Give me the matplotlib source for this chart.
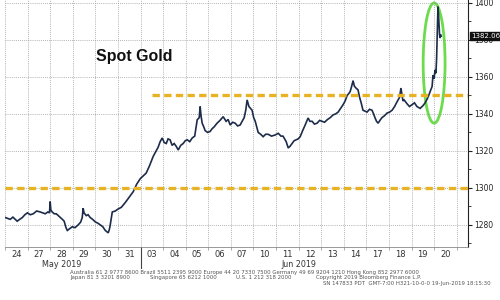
import matplotlib
matplotlib.use("Agg")
import matplotlib.pyplot as plt
from matplotlib.patches import Ellipse
from matplotlib.lines import Line2D
from matplotlib.ticker import MultipleLocator, FixedLocator

# ---- data ----
day_labels = ["24", "27", "28", "29", "30", "31", "03", "04", "05", "06",
              "07", "10", "11", "12", "13", "14", "17", "18", "19", "20"]
month_labels = ["May 2019", "Jun 2019"]
month_label_days = [2.0, 12.5]

# time in trading days (0 = May 24) and spot gold price
t = [-0.49, -0.38, -0.27, -0.15, 0.04, 0.15, 0.27, 0.38, 0.49, 0.62, 0.75, 0.9, 1.06,
     1.17, 1.28, 1.40, 1.47, 1.50, 1.53, 1.59, 1.68, 1.77, 1.86, 1.95, 2.04, 2.12, 2.2,
     2.26, 2.37, 2.48, 2.6, 2.74, 2.85, 2.92, 2.96, 3.0, 3.10, 3.18, 3.27, 3.38, 3.50,
     3.6, 3.72, 3.83, 3.94, 4.07, 4.12, 4.16, 4.25, 4.38, 4.51, 4.65, 4.82, 5.0, 5.18,
     5.33, 5.49, 5.62, 5.75, 5.9, 6.06, 6.17, 6.28, 6.37, 6.46, 6.55, 6.64, 6.72, 6.81,
     6.9, 6.99, 7.08, 7.17, 7.28, 7.39, 7.48, 7.57, 7.68, 7.79, 7.9, 8.01, 8.1, 8.14,
     8.18, 8.23, 8.3, 8.36, 8.47, 8.58, 8.67, 8.76, 8.89, 9.02, 9.16, 9.29, 9.38, 9.47,
     9.58, 9.69, 9.8, 9.91, 10.0, 10.09, 10.16, 10.22, 10.3, 10.44, 10.51, 10.58, 10.71,
     10.82, 10.93, 11.04, 11.15, 11.3, 11.46, 11.6, 11.72, 11.81, 11.95, 12.04, 12.12,
     12.21, 12.3, 12.39, 12.48, 12.57, 12.68, 12.79, 12.92, 13.0, 13.10, 13.2, 13.32,
     13.43, 13.54, 13.65, 13.76, 13.9, 14.03, 14.14, 14.25, 14.36, 14.47, 14.56, 14.65,
     14.72, 14.78, 14.85, 14.91, 14.97, 15.04, 15.13, 15.2, 15.27, 15.35, 15.44, 15.53,
     15.64, 15.75, 15.82, 15.88, 15.95, 16.02, 16.1, 16.19, 16.3, 16.42, 16.53, 16.64,
     16.75, 16.86, 16.97, 17.03, 17.08, 17.12, 17.17, 17.3, 17.41, 17.52, 17.63, 17.74,
     17.88, 18.01, 18.1, 18.19, 18.26, 18.32, 18.41, 18.45, 18.5, 18.54, 18.58, 18.61,
     18.63, 18.65, 18.67, 18.69, 18.72, 18.74, 18.76, 18.78, 18.81]
price = [1284.0, 1283.5, 1283.0, 1284.2, 1282.0, 1283.0, 1284.0, 1285.5, 1286.5, 1285.5,
         1286.0, 1287.5, 1287.0, 1286.5, 1286.0, 1287.0, 1286.5, 1292.6, 1288.0, 1287.0,
         1286.0, 1286.0, 1285.0, 1284.0, 1283.0, 1282.0, 1278.5, 1277.0, 1278.0, 1279.0,
         1278.5, 1280.0, 1281.5, 1284.0, 1289.0, 1286.5, 1285.0, 1285.5, 1284.0, 1283.0,
         1281.6, 1281.0, 1280.0, 1279.0, 1277.0, 1275.7, 1277.5, 1280.0, 1287.0, 1287.5,
         1288.6, 1289.5, 1292.0, 1295.0, 1298.0, 1302.0, 1305.0, 1306.5, 1308.0, 1312.0,
         1317.0, 1319.5, 1322.0, 1325.0, 1327.0, 1324.5, 1324.0, 1326.5, 1326.0, 1323.0,
         1324.0, 1322.5, 1320.5, 1323.0, 1324.0, 1325.5, 1326.0, 1325.0, 1327.0, 1328.0,
         1336.8, 1338.0, 1344.0, 1339.0, 1335.0, 1333.0, 1331.0, 1330.0, 1330.5, 1332.0,
         1333.0, 1335.0, 1336.5, 1338.5, 1336.0, 1337.0, 1334.0, 1335.5, 1335.0, 1333.5,
         1334.0, 1336.0, 1338.0, 1342.0, 1347.6, 1344.0, 1342.0, 1338.0, 1336.0, 1330.0,
         1329.0, 1327.7, 1329.0, 1329.0, 1328.0, 1328.6, 1329.5, 1328.0, 1328.0, 1325.0,
         1321.6, 1322.5, 1324.0, 1325.5, 1326.0, 1326.5, 1327.7, 1331.0, 1334.0, 1337.8,
         1336.0, 1336.0, 1334.5, 1335.0, 1336.5, 1336.0, 1335.5, 1336.8, 1338.0, 1339.5,
         1340.0, 1341.0, 1343.0, 1345.0, 1347.0, 1350.0, 1351.0, 1352.0, 1355.0, 1358.0,
         1355.0, 1354.0, 1353.0, 1349.0, 1346.0, 1342.0, 1341.5, 1341.0, 1342.5, 1342.0,
         1340.0, 1338.0, 1336.0, 1335.0, 1336.5, 1338.0, 1339.0, 1340.5, 1341.0, 1342.0,
         1344.0, 1346.6, 1349.0, 1354.0, 1350.0, 1347.0, 1347.6, 1345.5, 1344.0, 1345.0,
         1346.0, 1344.0, 1343.0, 1344.5, 1346.0, 1348.0, 1350.0, 1352.0, 1354.8, 1361.0,
         1359.0, 1363.8, 1362.0, 1370.0, 1380.0, 1390.0, 1398.0, 1395.0, 1388.0, 1383.0,
         1381.0, 1383.0, 1382.06]
support_levels = [1350, 1300]
support_start_days = [6.0, -0.5]
last_price = 1382.06

# ---- figure ----
fig = plt.figure(figsize=(5, 3), dpi=100)
ax = fig.add_axes([0.01, 0.177, 0.926, 0.823])

ax.plot(t, price, color="#1d2c4a", lw=1.2, solid_joinstyle="miter")

for lvl, start in zip(support_levels, support_start_days):
    ax.plot([start, 20.0], [lvl, lvl], color="#e8b225", lw=2.4,
            dashes=[2.2, 1.3], solid_capstyle="butt")

ax.add_patch(Ellipse((18.5, 1367.5), 0.97, 65, fill=False,
                     edgecolor="#6cdc4c", lw=2.0))

ax.set_xlim(-0.5, 20.0)
ax.set_ylim(1268.1, 1401.6)

# y axis on the right
ax.yaxis.tick_right()
ax.yaxis.set_major_locator(MultipleLocator(20))
ax.yaxis.set_minor_locator(MultipleLocator(10))
ax.tick_params(axis="y", which="major", labelsize=5.5, length=3, width=0.8,
               pad=1.5, colors="#222222", direction="out")
ax.tick_params(axis="y", which="minor", length=2, width=0.6, colors="#222222")

# x axis: labels at day centres, grid at day boundaries
ax.xaxis.set_major_locator(FixedLocator(range(len(day_labels))))
ax.set_xticklabels(day_labels)
ax.xaxis.set_minor_locator(FixedLocator([i - 0.5 for i in range(len(day_labels) + 1)]))
ax.tick_params(axis="x", which="major", length=0, labelsize=6, pad=2.5, colors="#333333")
ax.tick_params(axis="x", which="minor", length=2, width=0.5, colors="#888888")

ax.grid(True, axis="y", which="major", linestyle=(0, (1, 1.5)), color="#9a9a9a", lw=0.6)
ax.grid(True, axis="x", which="minor", linestyle=(0, (1, 1.5)), color="#9a9a9a", lw=0.6)

for s in ["top", "left"]:
    ax.spines[s].set_visible(False)
ax.spines["right"].set_color("#222222")
ax.spines["right"].set_linewidth(0.8)
ax.spines["bottom"].set_color("#888888")
ax.spines["bottom"].set_linewidth(0.6)

# month labels and separator
for lab, d in zip(month_labels, month_label_days):
    ax.text(d, -0.072, lab, transform=ax.get_xaxis_transform(), ha="center", va="center",
            fontsize=5.8, color="#333333")
ax.add_line(Line2D([5.5, 5.5], [0, -0.085], transform=ax.get_xaxis_transform(),
                   color="#444444", lw=0.8, clip_on=False))

# last price tag (covers the 1380 label, as in the source)
ax.annotate(f"{last_price:.2f}", xy=(1.0, last_price), xycoords=("axes fraction", "data"),
            xytext=(2.5, 0), textcoords="offset points", ha="left", va="center",
            fontsize=5.0, color="white", zorder=10,
            bbox=dict(boxstyle="square,pad=0.15", fc="#111111", ec="#111111"))

# title
ax.text(0.28, 0.77, "Spot Gold", transform=ax.transAxes, ha="center", va="center",
        fontsize=11.5, fontweight="bold", family="Liberation Sans", color="#111111")

# footer
fc = "#555555"
fs = 3.9
fig.text(0.14, 0.092, "Australia 61 2 9777 8600 Brazil 5511 2395 9000 Europe 44 20 7330 7500 "
         "Germany 49 69 9204 1210 Hong Kong 852 2977 6000", fontsize=fs, color=fc,
         va="center", ha="left")
fig.text(0.14, 0.074, "Japan 81 3 3201 8900", fontsize=fs, color=fc, va="center")
fig.text(0.30, 0.074, "Singapore 65 6212 1000", fontsize=fs, color=fc, va="center")
fig.text(0.472, 0.074, "U.S. 1 212 318 2000", fontsize=fs, color=fc, va="center")
fig.text(0.632, 0.074, "Copyright 2019 Bloomberg Finance L.P.", fontsize=fs, color=fc,
         va="center")
fig.text(0.646, 0.056, "SN 147833 PDT  GMT-7:00 H321-10-0-0 19-Jun-2019 18:15:30",
         fontsize=fs, color=fc, va="center")

fig.savefig("out.png", dpi=100, facecolor="white")
